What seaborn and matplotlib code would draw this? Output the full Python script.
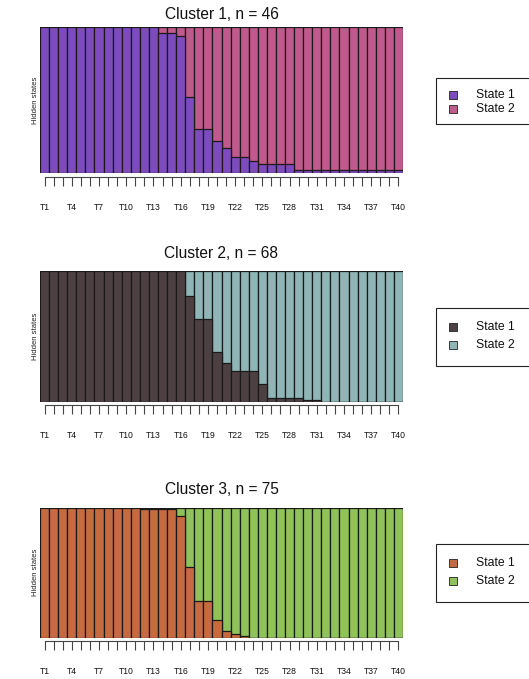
import matplotlib
matplotlib.use("Agg")
import matplotlib.pyplot as plt
from matplotlib.patches import Rectangle
import seaborn as sns
import pandas as pd
import numpy as np

sns.set_theme(style="white")
plt.rcParams["font.family"] = ["Liberation Sans", "DejaVu Sans"]

# ---- data ----
time_labels = ["T%d" % i for i in range(1, 41)]
state_labels = ["State 1", "State 2"]

cluster_n = [46, 68, 75]

cluster1_state1 = [46, 46, 46, 46, 46, 46, 46, 46, 46, 46, 46, 46, 46, 44, 44, 43, 24, 14, 14, 10,
                   8, 5, 5, 4, 3, 3, 3, 3, 1, 1, 1, 1, 1, 1, 1, 1, 1, 1, 1, 1]
cluster2_state1 = [68, 68, 68, 68, 68, 68, 68, 68, 68, 68, 68, 68, 68, 68, 68, 68, 55, 43, 43, 26,
                   20, 16, 16, 16, 9, 2, 2, 2, 2, 1, 1, 0, 0, 0, 0, 0, 0, 0, 0, 0]
cluster3_state1 = [75, 75, 75, 75, 75, 75, 75, 75, 75, 75, 75, 74, 74, 74, 74, 70, 41, 21, 21, 10,
                   4, 2, 1, 0, 0, 0, 0, 0, 0, 0, 0, 0, 0, 0, 0, 0, 0, 0, 0, 0]

cluster_colors = [("#7D4BBE", "#C05A8D"),
                  ("#4D4043", "#8FB5B6"),
                  ("#C66A3F", "#8FC259")]

W, H = 529, 679
fig = plt.figure(figsize=(W / 100, H / 100), dpi=100)

# pixel layout: (top, bottom) of each panel
panels = [(26.7, 173.3), (271.0, 401.7), (507.7, 637.7)]
title_pads = [5.5, 9.5, 10.0]
legend_boxes = [(78.3, 124.0, 95.0, 109.0), (308.3, 365.7, 327.0, 345.0), (544.3, 602.0, 563.0, 580.5)]
left_px, right_px = 40, 403

all_state1 = [cluster1_state1, cluster2_state1, cluster3_state1]

for k in range(3):
    top, bot = panels[k]
    ax = fig.add_axes([left_px / W, 1 - bot / H, (right_px - left_px) / W, (bot - top) / H])
    n = cluster_n[k]
    s1 = np.array(all_state1[k]) / n
    df = pd.DataFrame({"time": time_labels, "State 1": s1, "State 2": 1 - s1})
    df["total"] = df["State 1"] + df["State 2"]
    c1, c2 = cluster_colors[k]
    sns.barplot(data=df, x="time", y="total", color=c2, saturation=1, width=1,
                edgecolor="#1a1a1a", linewidth=0.9, ax=ax)
    sns.barplot(data=df, x="time", y="State 1", color=c1, saturation=1, width=1,
                edgecolor="#1a1a1a", linewidth=0.9, ax=ax)
    ax.set_xlim(-0.5, 39.5)
    ax.set_ylim(0, 1)
    ax.set_yticks([])
    ax.set_xlabel("")
    ax.set_ylabel("Hidden states", fontsize=5.5, labelpad=1.0, color="#222222")
    for s in ["left", "right", "top"]:
        ax.spines[s].set_visible(False)
    ax.spines["bottom"].set_position(("outward", 2.7))
    ax.spines["bottom"].set_bounds(0, 39)
    ax.spines["bottom"].set_color("#444444")
    ax.spines["bottom"].set_linewidth(0.8)
    ax.set_xticks(range(40))
    ax.set_xticklabels([lab if i % 3 == 0 else "" for i, lab in enumerate(time_labels)])
    ax.tick_params(axis="x", direction="out", length=6.5, width=0.8, color="#444444",
                   pad=12, labelsize=6.2, bottom=True, labelcolor="#111111")
    ax.set_title("Cluster %d, n = %d" % (k + 1, n), fontsize=11.2, pad=title_pads[k], color="#111111")

    # legend
    ltop, lbot, y1, y2 = legend_boxes[k]
    fig.add_artist(Rectangle((436 / W, 1 - lbot / H), 120 / W, (lbot - ltop) / H,
                             transform=fig.transFigure, facecolor="white", edgecolor="#222222",
                             linewidth=0.8, clip_on=False))
    for yc, col, lab in [(y1, c1, state_labels[0]), (y2, c2, state_labels[1])]:
        fig.add_artist(Rectangle((449 / W, 1 - (yc + 4) / H), 8 / W, 8 / H,
                                 transform=fig.transFigure, facecolor=col, edgecolor="#222222",
                                 linewidth=0.6))
        fig.text(476 / W, 1 - yc / H, lab, fontsize=8.8, va="center", ha="left", color="#111111")

fig.savefig("out.png", dpi=100)
